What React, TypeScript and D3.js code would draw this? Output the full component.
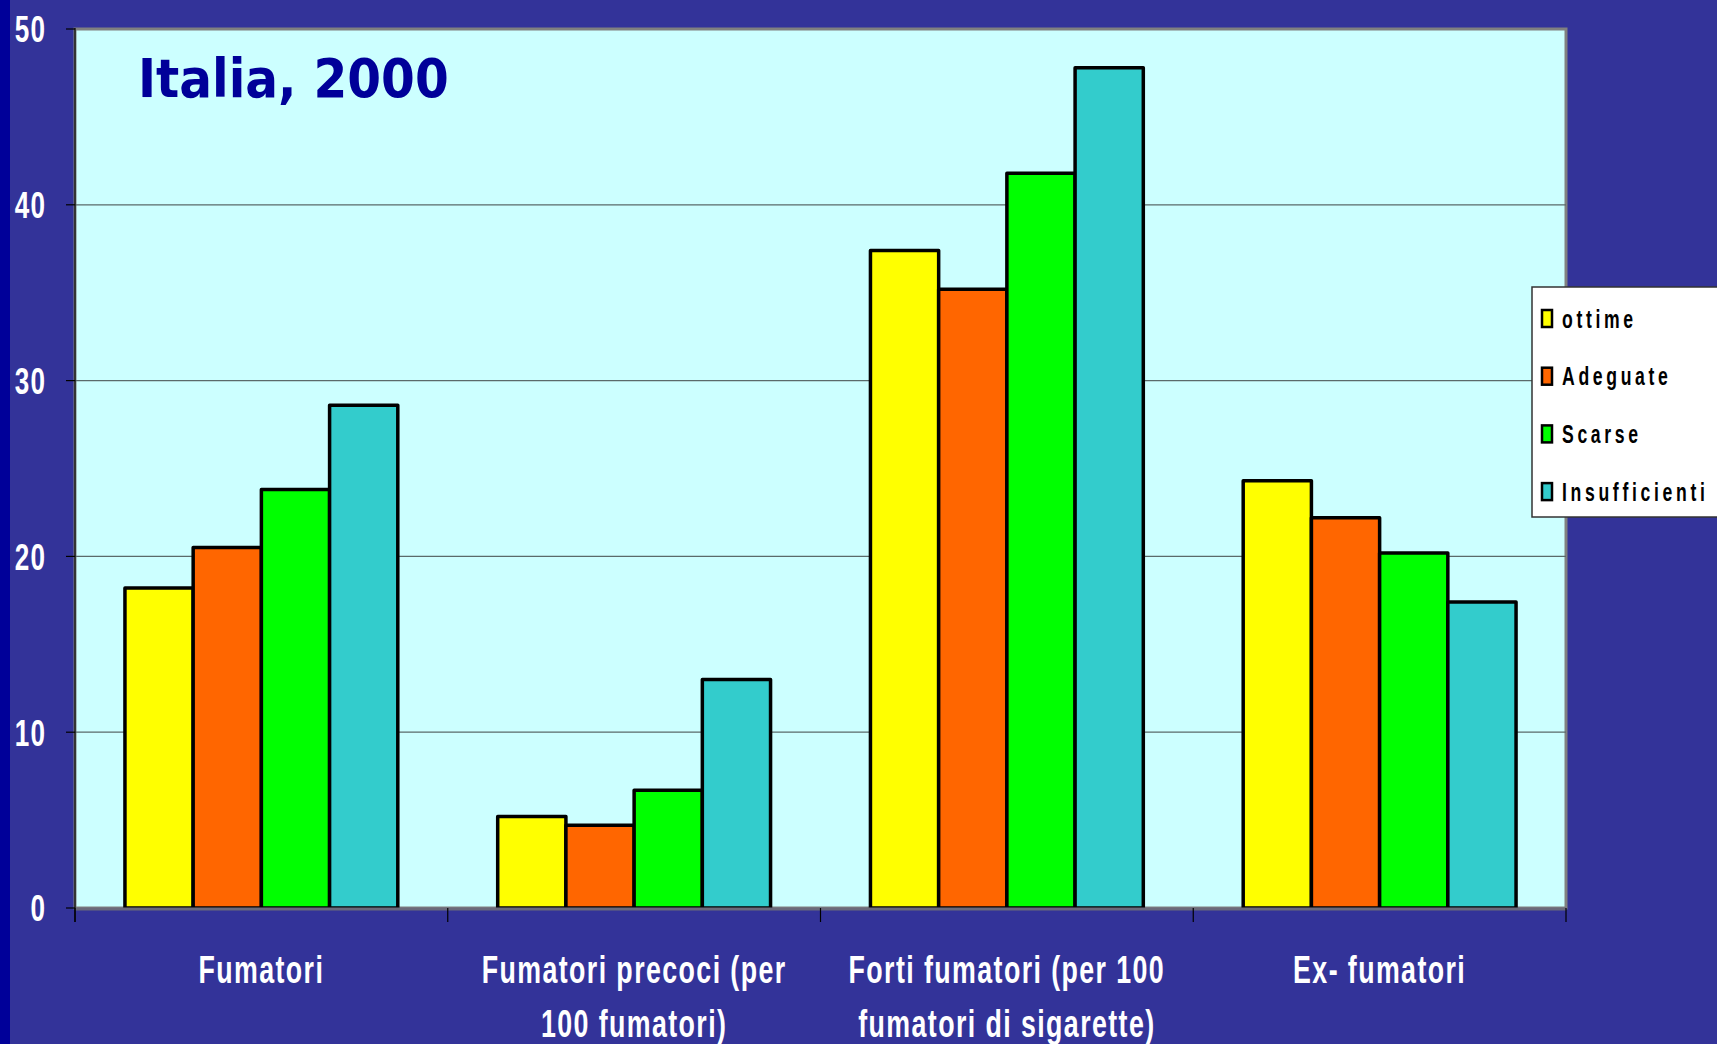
import React from "react";
import * as d3 from "d3";

// Categories on the x axis (each label may wrap onto two lines)
const categories = [
  "Fumatori",
  "Fumatori precoci (per 100 fumatori)",
  "Forti fumatori (per 100 fumatori di sigarette)",
  "Ex- fumatori",
];
const categoryLines = [
  ["Fumatori"],
  ["Fumatori precoci (per", "100 fumatori)"],
  ["Forti fumatori (per 100", "fumatori di sigarette)"],
  ["Ex- fumatori"],
];

// Series (legend order)
const seriesNames = ["ottime", "Adeguate", "Scarse", "Insufficienti"];
const seriesColors = ["#FFFF00", "#FF6600", "#00FF00", "#33CCCC"];

// Values per series, one entry per category
const ottime = [18.2, 5.2, 37.4, 24.3];
const adeguate = [20.5, 4.7, 35.2, 22.2];
const scarse = [23.8, 6.7, 41.8, 20.2];
const insufficienti = [28.6, 13.0, 47.8, 17.4];
const seriesValues = [ottime, adeguate, scarse, insufficienti];

const yTicks = [0, 10, 20, 30, 40, 50];
const title = "Italia, 2000";

const W = 1717;
const H = 1044;
const plot = { left: 75, right: 1566, top: 29, bottom: 908 };

const labelFont = "'Liberation Sans', Arial, sans-serif";
const SQUEEZE = 0.705;

// Bold condensed label: regular sans glyphs squeezed horizontally around the anchor
function Narrow(props: {
  x: number;
  y: number;
  size: number;
  spacing: number;
  anchor?: string;
  fill?: string;
  dy?: string;
  children: React.ReactNode;
}) {
  const { x, y, size, spacing, anchor = "start", fill = "#fff", dy, children } = props;
  return (
    <text
      transform={`translate(${x},${y}) scale(${SQUEEZE},1)`}
      x={0}
      y={0}
      dy={dy}
      textAnchor={anchor}
      fill={fill}
      fontFamily={labelFont}
      fontWeight="bold"
      fontSize={size}
      letterSpacing={spacing}
    >
      {children}
    </text>
  );
}

export default function App() {
  const x0 = d3
    .scaleBand<string>()
    .domain(categories)
    .range([plot.left, plot.right])
    .paddingInner(0)
    .paddingOuter(0);
  const bw = x0.bandwidth();
  const groupPad = bw * 0.134;
  const x1 = d3
    .scaleBand<string>()
    .domain(seriesNames)
    .range([groupPad, bw - groupPad])
    .padding(0);
  const y = d3.scaleLinear().domain([0, 50]).range([plot.bottom, plot.top]);

  const edges = categories.map((c) => x0(c) as number).concat([plot.right]);

  return (
    <svg
      width={W}
      height={H}
      style={{ position: "absolute", left: 0, top: 0, display: "block" }}
    >
      {/* slide background */}
      <rect x={0} y={0} width={W} height={H} fill="#333399" />
      <rect x={0} y={0} width={10} height={H} fill="#000099" />

      {/* plot area */}
      <rect
        x={plot.left}
        y={plot.top}
        width={plot.right - plot.left}
        height={plot.bottom - plot.top}
        fill="#CCFFFF"
        stroke="#808080"
        strokeWidth={3}
      />

      {/* horizontal gridlines */}
      {yTicks
        .filter((t) => t > 0 && t < 50)
        .map((t) => (
          <line
            key={"g" + t}
            x1={plot.left}
            x2={plot.right}
            y1={y(t)}
            y2={y(t)}
            stroke="#5a6a6a"
            strokeWidth={1.2}
          />
        ))}

      {/* bars */}
      {categories.map((c, ci) => (
        <g key={c} transform={`translate(${x0(c)},0)`}>
          {seriesNames.map((s, si) => {
            const v = seriesValues[si][ci];
            return (
              <rect
                key={s}
                x={x1(s) as number}
                y={y(v)}
                width={x1.bandwidth()}
                height={y(0) - y(v)}
                fill={seriesColors[si]}
                stroke="#000"
                strokeWidth={3.5}
                strokeLinejoin="round"
              />
            );
          })}
        </g>
      ))}

      {/* x axis line and category edge ticks */}
      <line
        x1={plot.left}
        x2={plot.right}
        y1={plot.bottom + 1}
        y2={plot.bottom + 1}
        stroke="#6a6a7a"
        strokeWidth={3}
      />
      {edges.map((e, i) => (
        <line key={"xt" + i} x1={e} x2={e} y1={plot.bottom} y2={plot.bottom + 14} stroke="#000" strokeWidth={1.2} />
      ))}

      {/* y axis line, ticks and labels */}
      <line x1={plot.left} x2={plot.left} y1={plot.top - 1} y2={plot.bottom + 14} stroke="#000" strokeWidth={1.2} />
      {yTicks.map((t) => (
        <g key={"yt" + t}>
          <line x1={plot.left - 9} x2={plot.left} y1={y(t)} y2={y(t)} stroke="#000" strokeWidth={1.2} />
          <Narrow x={46} y={y(t)} dy="0.36em" anchor="end" size={37} spacing={1.5}>
            {t}
          </Narrow>
        </g>
      ))}

      {/* category labels */}
      {categories.map((c, ci) =>
        categoryLines[ci].map((ln, li) => (
          <Narrow
            key={"cl" + ci + "-" + li}
            x={(x0(c) as number) + bw / 2}
            y={983 + li * 54}
            anchor="middle"
            size={38}
            spacing={2}
          >
            {ln}
          </Narrow>
        ))
      )}

      {/* title */}
      <text
        x={138}
        y={97}
        fill="#000099"
        fontFamily="'DejaVu Sans Condensed', 'DejaVu Sans', Tahoma, sans-serif"
        fontWeight="bold"
        fontSize={54}
      >
        {title}
      </text>

      {/* legend */}
      <rect x={1532} y={287} width={200} height={230} fill="#fff" stroke="#333" strokeWidth={1.5} />
      {seriesNames.map((s, si) => {
        const cy = 318.5 + si * 57.7;
        return (
          <g key={"lg" + s}>
            <rect x={1542} y={cy - 8.5} width={10} height={17} fill={seriesColors[si]} stroke="#000" strokeWidth={2.5} />
            <Narrow x={1562} y={cy} dy="0.36em" size={25} spacing={5.2} fill="#000">
              {s}
            </Narrow>
          </g>
        );
      })}
    </svg>
  );
}
